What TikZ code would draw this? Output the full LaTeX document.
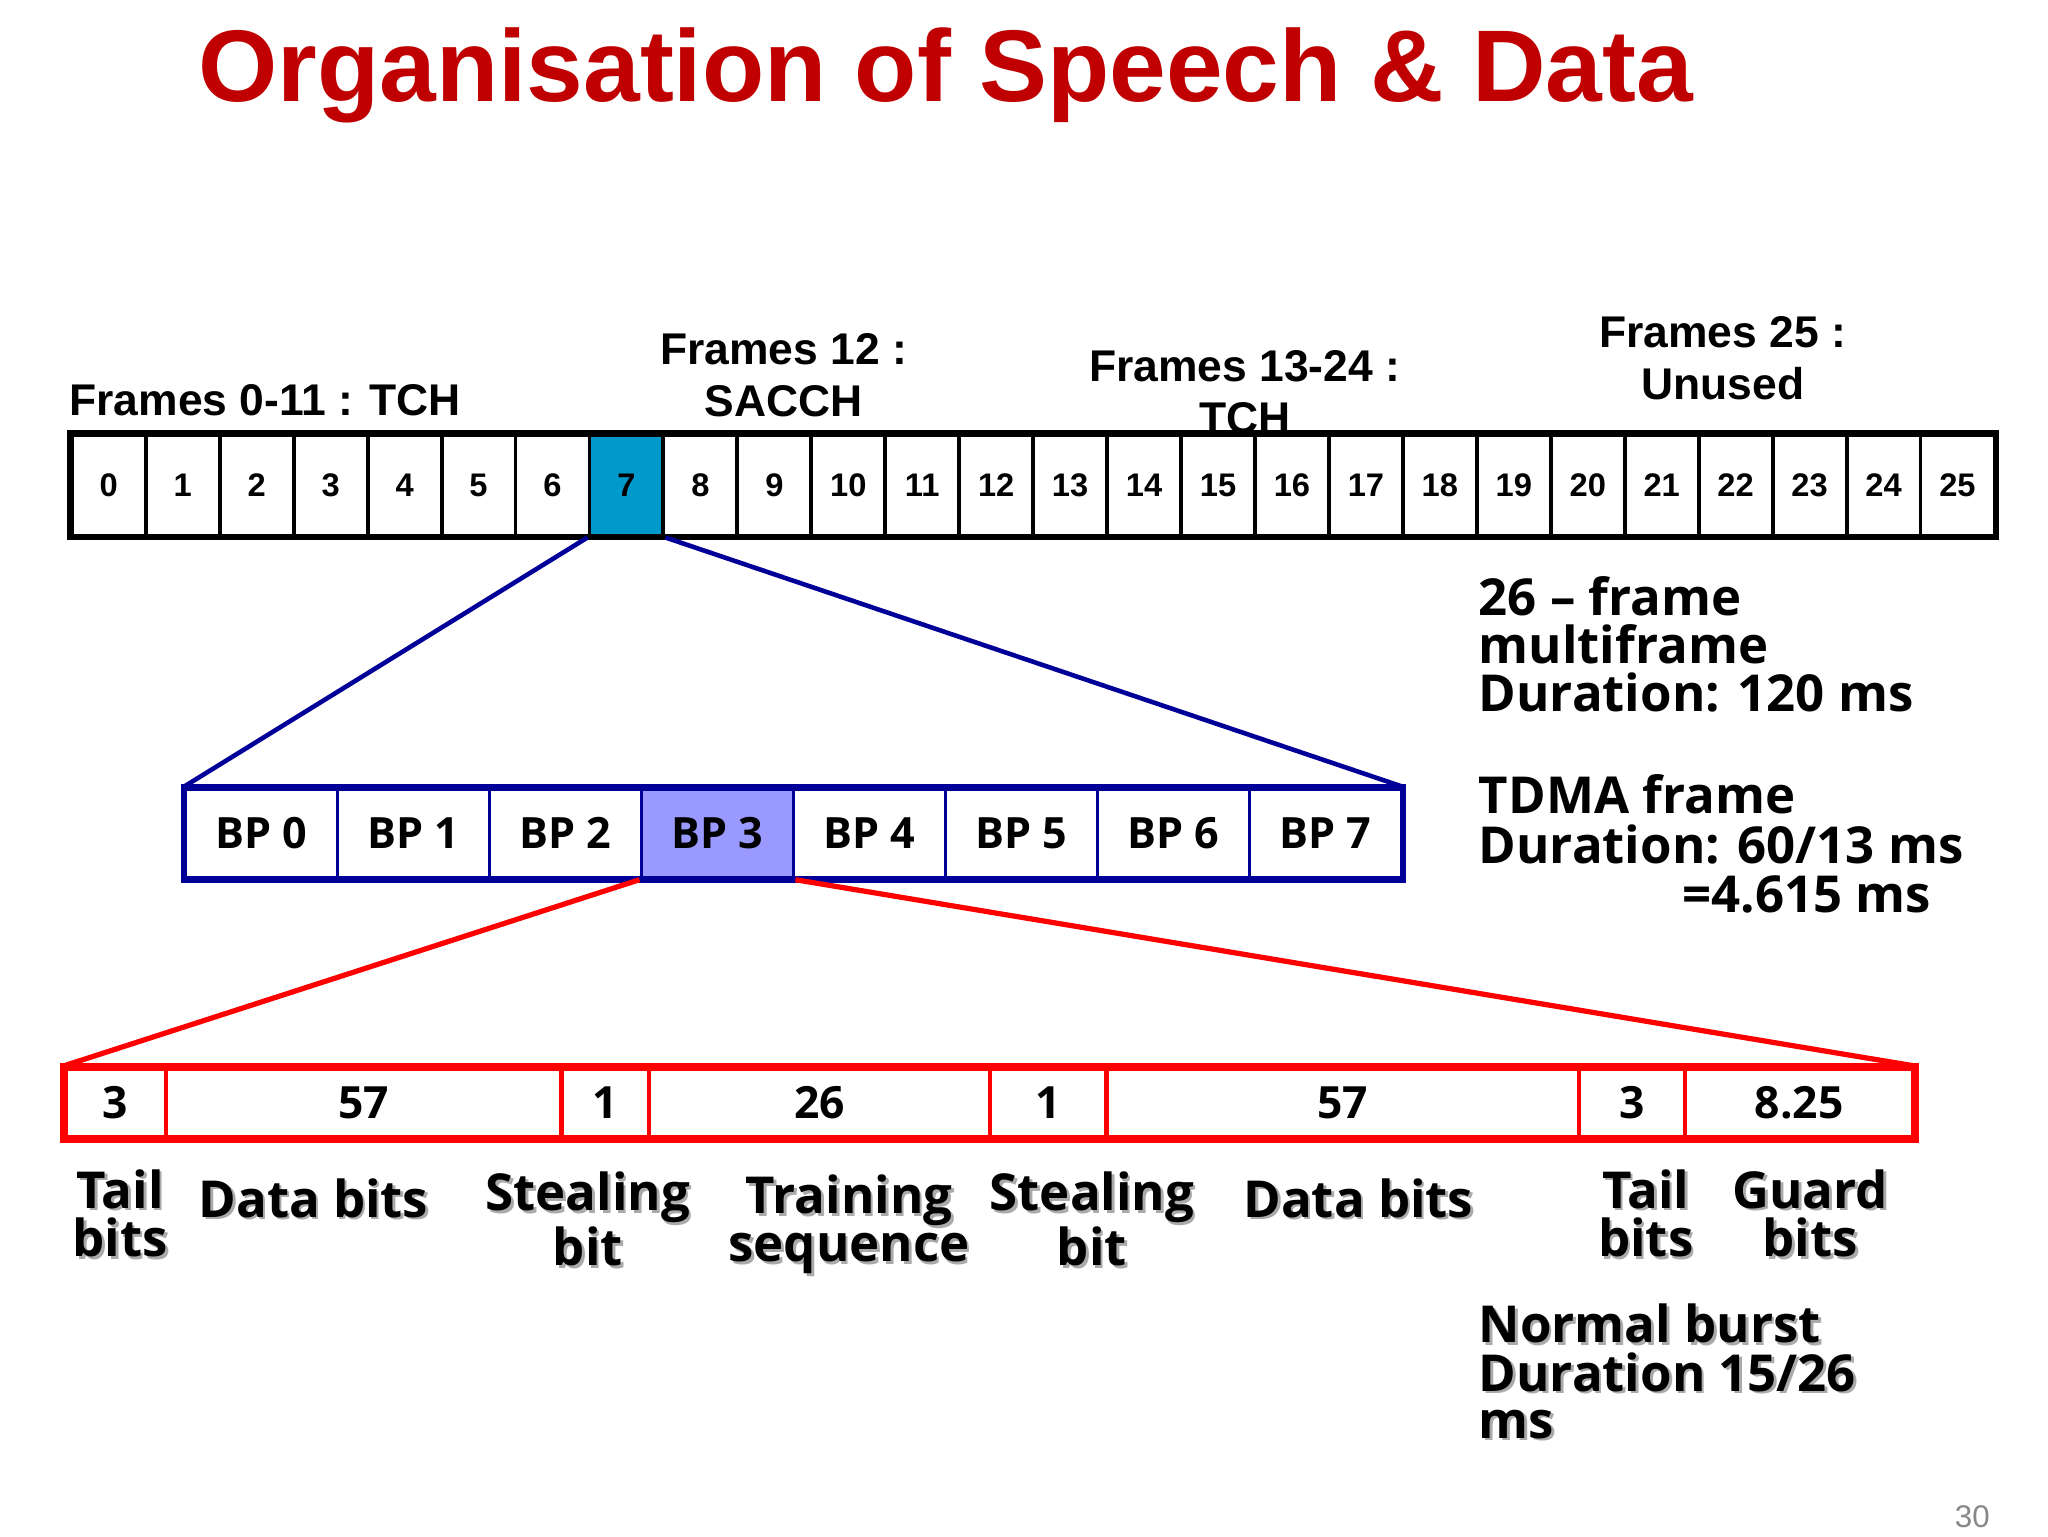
\documentclass[tikz,border=0pt]{standalone}
\usepackage{fontspec}
\setmainfont{Open Sans}
\newfontfamily\arl{Liberation Sans}
\definecolor{titlered}{HTML}{C00000}
\definecolor{frameblue}{HTML}{0099CC}
\definecolor{navy}{HTML}{000099}
\definecolor{bplilac}{HTML}{9999FF}
\definecolor{shadowgray}{HTML}{AAAAAA}
\definecolor{pagegray}{HTML}{888888}
\newcommand\shd[1]{\rlap{\kern2pt\raisebox{-2pt}{\textcolor{shadowgray}{#1}}}#1}
\tikzset{
  fcell/.style={draw=black, line width=3pt, minimum width=56.615pt, minimum height=77pt, inner sep=0pt,
    font=\arl\bfseries\fontsize{25}{25}\selectfont},
  bpcell/.style={draw=navy, line width=3pt, minimum width=116.375pt, minimum height=68pt, inner sep=0pt,
    font=\bfseries\fontsize{33}{33}\selectfont},
  bcell/.style={draw=red, line width=3.5pt, minimum height=53pt, inner sep=0pt,
    font=\bfseries\fontsize{34}{34}\selectfont},
  flabel/.style={inner sep=0pt, align=center, font=\arl\bfseries\fontsize{34}{40}\selectfont},
  blabel/.style={inner sep=0pt, align=center, anchor=base, font=\bfseries\fontsize{39}{37}\selectfont},
  rlabel/.style={inner sep=0pt, anchor=base west, font=\bfseries\fontsize{39}{37}\selectfont},
  bluelink/.style={draw=navy, line width=3.5pt},
  redlink/.style={draw=red, line width=4pt},
}
\begin{document}
\begin{tikzpicture}[x=1pt,y=-1pt]
\useasboundingbox[fill=white] (0,0) rectangle (1568,1176);
% title
\node[inner sep=0pt, anchor=base, text=titlered, font=\arl\bfseries\fontsize{78}{80}\selectfont] (title) at (724,78) {Organisation of Speech \& Data};
% frame labels (base = last line)
\node[flabel, anchor=base west] (lab011) at (53,318) {Frames 0-11 : TCH};
\node[flabel, anchor=base] (lab12) at (600,319) {Frames 12 :\\SACCH};
\node[flabel, anchor=base] (lab1324) at (953,332) {Frames 13-24 :\\TCH};
\node[flabel, anchor=base] (lab25) at (1319,306) {Frames 25 :\\Unused};
% 26-frame multiframe
\foreach \i in {0,...,25}{
  \ifnum\i=7 \def\fc{frameblue}\else\def\fc{white}\fi
  \node[fcell, fill=\fc, text height=18pt, text depth=0pt] (f\i) at ({55+56.615*(\i+0.5)},371.5) {\i};
}
\draw[line width=4.5pt] (f0.north west) rectangle (f25.south east);
% TDMA frame
\foreach \i in {0,...,7}{
  \ifnum\i=3 \def\fc{bplilac}\else\def\fc{white}\fi
  \node[bpcell, fill=\fc] (bp\i) at ({142+116.375*(\i+0.5)},638) {BP \i};
}
\draw[navy, line width=4.5pt] (bp0.north west) rectangle (bp7.south east);
% links
\draw[bluelink] (f7.south west) -- (bp0.north west);
\draw[bluelink] (f7.south east) -- (bp7.north east);
% normal burst
\node[bcell, minimum width=77pt] (b1) at (88.5,844.5) {3};
\node[bcell, minimum width=303pt] (b2) at (278.5,844.5) {57};
\node[bcell, minimum width=67pt] (b3) at (463.5,844.5) {1};
\node[bcell, minimum width=261pt] (b4) at (627.5,844.5) {26};
\node[bcell, minimum width=89pt] (b5) at (802.5,844.5) {1};
\node[bcell, minimum width=362pt] (b6) at (1028,844.5) {57};
\node[bcell, minimum width=81pt] (b7) at (1249.5,844.5) {3};
\node[bcell, minimum width=175pt] (b8) at (1377.5,844.5) {8.25};
\draw[red, line width=4.5pt] (b1.north west) rectangle (b8.south east);
\draw[redlink] (bp3.south west) -- (b1.north west);
\draw[redlink] (bp3.south east) -- (b8.north east);
% burst labels (base = last line)
\node[blabel] (l1) at (92,962) {\shd{Tail}\\\shd{bits}};
\node[blabel] (l2) at (240,932) {\shd{Data bits}};
\node[blabel] (l3) at (450,969) {\shd{Stealing}\\\shd{bit}};
\node[blabel] (l4) at (650,966) {\shd{Training}\\\shd{sequence}};
\node[blabel] (l5) at (836,969) {\shd{Stealing}\\\shd{bit}};
\node[blabel] (l6) at (1040,932) {\shd{Data bits}};
\node[blabel] (l7) at (1260,962) {\shd{Tail}\\\shd{bits}};
\node[blabel] (l8) at (1386,962) {\shd{Guard}\\\shd{bits}};
% right texts
\node[rlabel] (m1) at (1132,471) {26 – frame};
\node[rlabel] (m2) at (1132,508) {multiframe};
\node[rlabel] (m3) at (1132,545) {Duration: 120 ms};
\node[rlabel] (t1) at (1132,623) {TDMA frame};
\node[rlabel] (t2) at (1132,661) {Duration: 60/13 ms};
\node[rlabel] (t3) at (1288,699) {=4.615 ms};
\node[rlabel] (n1) at (1132,1028) {\shd{Normal burst}};
\node[rlabel] (n2) at (1132,1065) {\shd{Duration 15/26}};
\node[rlabel] (n3) at (1132,1101) {\shd{ms}};
% page number
\node[inner sep=0pt, text=pagegray, font=\arl\fontsize{24}{24}\selectfont] (pg) at (1510,1161) {30};
\end{tikzpicture}
\end{document}
